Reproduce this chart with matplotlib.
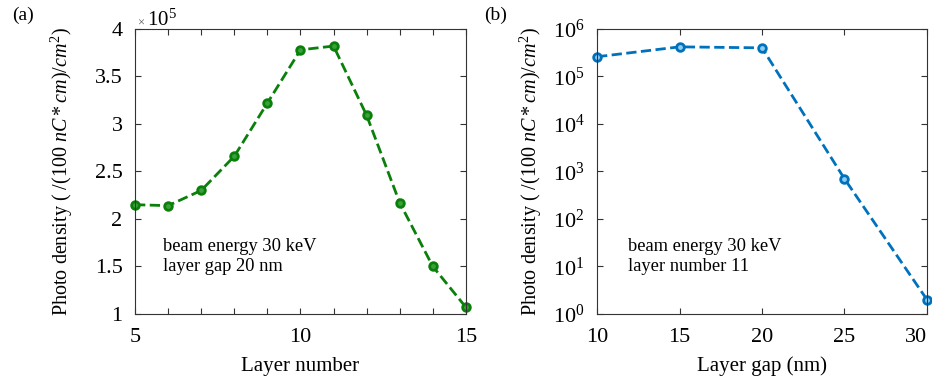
import numpy as np
import matplotlib
matplotlib.use('Agg')
import matplotlib.pyplot as plt
from matplotlib.ticker import FixedLocator

plt.rcParams['font.family'] = ['Liberation Serif', 'DejaVu Serif']
plt.rcParams['mathtext.fontset'] = 'custom'
plt.rcParams['mathtext.rm'] = 'Liberation Serif'
plt.rcParams['mathtext.it'] = 'Liberation Serif:italic'

# (a) photo density vs layer number, values in units of 1e5
layer_number = [5, 6, 7, 8, 9, 10, 11, 12, 13, 14, 15]
density_a = [2.15, 2.14, 2.30, 2.66, 3.22, 3.78, 3.82, 3.09, 2.17, 1.50, 1.07]

# (b) photo density vs layer gap
layer_gap = [10, 15, 20, 25, 30]
density_b = [2.6e5, 4.2e5, 4.0e5, 7.0e2, 2.0]

ylabel = 'Photo density ( $/(100\\ nC*cm)/cm^2$)'

fig = plt.figure(figsize=(9.32, 3.81), dpi=100)
ax1 = fig.add_axes([0.1449, 0.176, 0.355, 0.748])
ax2 = fig.add_axes([0.6406, 0.176, 0.354, 0.748])

green = '#0a800a'
blue = '#0072BD'

ax1.plot(layer_number, density_a, '--o', color=green, lw=2, ms=5.5,
         mew=2, mfc='#3aa03a', mec=green, clip_on=False)
ax1.set_xlim(5, 15)
ax1.set_ylim(1, 4)
ax1.set_xticks(layer_number)
ax1.set_xticklabels(['5', '', '', '', '', '10', '', '', '', '', '15'])
ax1.set_yticks([1, 1.5, 2, 2.5, 3, 3.5, 4])
ax1.set_yticklabels(['1', '1.5', '2', '2.5', '3', '3.5', '4'])
ax1.set_xlabel('Layer number', fontsize=15, labelpad=7)
ax1.set_ylabel(ylabel, fontsize=14.5, labelpad=14)
ax1.text(0.005, 1.005, '$\\times$', transform=ax1.transAxes, fontsize=9,
         color='#555555', va='bottom', ha='left')
ax1.text(0.035, 0.995, '10$^5$', transform=ax1.transAxes, fontsize=15,
         va='bottom', ha='left')
ax1.text(0.085, 0.265, 'beam energy 30 keV\nlayer gap 20 nm',
         transform=ax1.transAxes, fontsize=13.3, va='top', ha='left',
         linespacing=1.2)

ax2.semilogy(layer_gap, density_b, '--o', color=blue, lw=2, ms=5.5,
             mew=2, mfc='#8fcdf0', mec=blue, clip_on=False)
ax2.set_xlim(10, 30)
ax2.set_ylim(1, 1e6)
ax2.set_xticks(layer_gap)
ax2.yaxis.set_major_locator(FixedLocator([1e0, 1e1, 1e2, 1e3, 1e4, 1e5, 1e6]))
ax2.yaxis.set_minor_locator(FixedLocator([]))
ax2.set_yticklabels(['10$^0$', '10$^1$', '10$^2$', '10$^3$', '10$^4$',
                     '10$^5$', '10$^6$'])
ax2.set_xlabel('Layer gap (nm)', fontsize=15, labelpad=7)
ax2.set_ylabel(ylabel, fontsize=14.5, labelpad=6)
ax2.text(0.094, 0.265, 'beam energy 30 keV\nlayer number 11',
         transform=ax2.transAxes, fontsize=13.3, va='top', ha='left',
         linespacing=1.2)

for ax in (ax1, ax2):
    ax.tick_params(which='both', direction='in', top=True, right=True,
                   labelsize=16, length=4, width=0.8, color='#333333')
    ax.tick_params(axis='x', pad=10)
    ax.tick_params(axis='y', pad=9)
    for s in ax.spines.values():
        s.set_color('#333333')
        s.set_linewidth(0.8)

# keep the last label inside the figure
ax2.get_xticklabels()[-1].set_ha('right')

fig.text(0.013, 0.96, '(a)', fontsize=14, va='center', ha='left')
fig.text(0.519, 0.96, '(b)', fontsize=14, va='center', ha='left')

fig.savefig('out.png', dpi=100)
